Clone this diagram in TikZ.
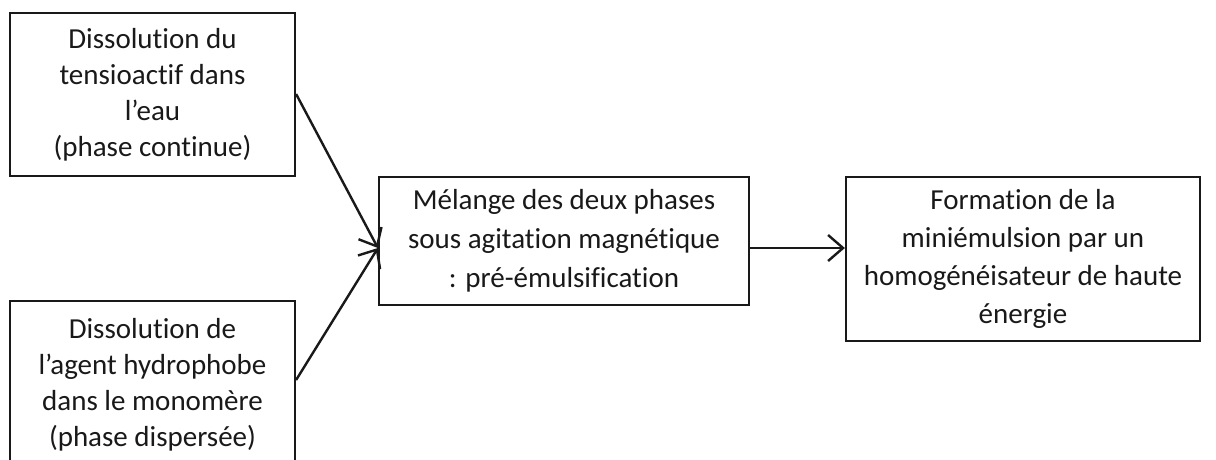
\documentclass[tikz,border=0pt]{standalone}
\usepackage{fontspec}
\setmainfont{Carlito}[RawFeature={-liga}]
\usetikzlibrary{arrows.meta}
\definecolor{ink}{RGB}{25,25,25}
\begin{document}
\begin{tikzpicture}[x=1pt,y=-1pt,
  box/.style={draw=ink,line width=2.2pt,rectangle,inner sep=0pt,text=ink,align=center,
    font=\fontsize{29}{36}\selectfont},
  conn/.style={draw=ink,line width=2.4pt,-{Straight Barb[length=15pt,width=26pt,line width=2.4pt]}}]
\useasboundingbox (0,0) rectangle (1216,459);
\node[box,minimum width=285pt,minimum height=163pt] (a) at (152.5,94.5)
  {Dissolution du\\tensioactif dans\\l’eau\\(phase continue)};
\node[box,minimum width=285pt,minimum height=168pt] (b) at (152.5,385)
  {Dissolution de\\l’agent hydrophobe\\dans le monomère\\(phase dispersée)};
\node[box,minimum width=370pt,minimum height=128pt,font=\fontsize{29}{39}\selectfont] (c) at (564,241)
  {Mélange des deux phases\\sous agitation magnétique\\: pré-émulsification};
\node[box,minimum width=354pt,minimum height=164pt,font=\fontsize{29}{38}\selectfont] (d) at (1023,259)
  {Formation de la\\miniémulsion par un\\homogénéisateur de haute\\énergie};
\coordinate (m) at (c.west |- 0,248);
\coordinate (a1) at (a.east |- 0,94);
\coordinate (b1) at (b.east |- 0,380);
\draw[conn] (a1) -- (m);
\draw[conn] (b1) -- (m);
\draw[conn] (c.east |- m) -- (d.west |- m);
\end{tikzpicture}
\end{document}
